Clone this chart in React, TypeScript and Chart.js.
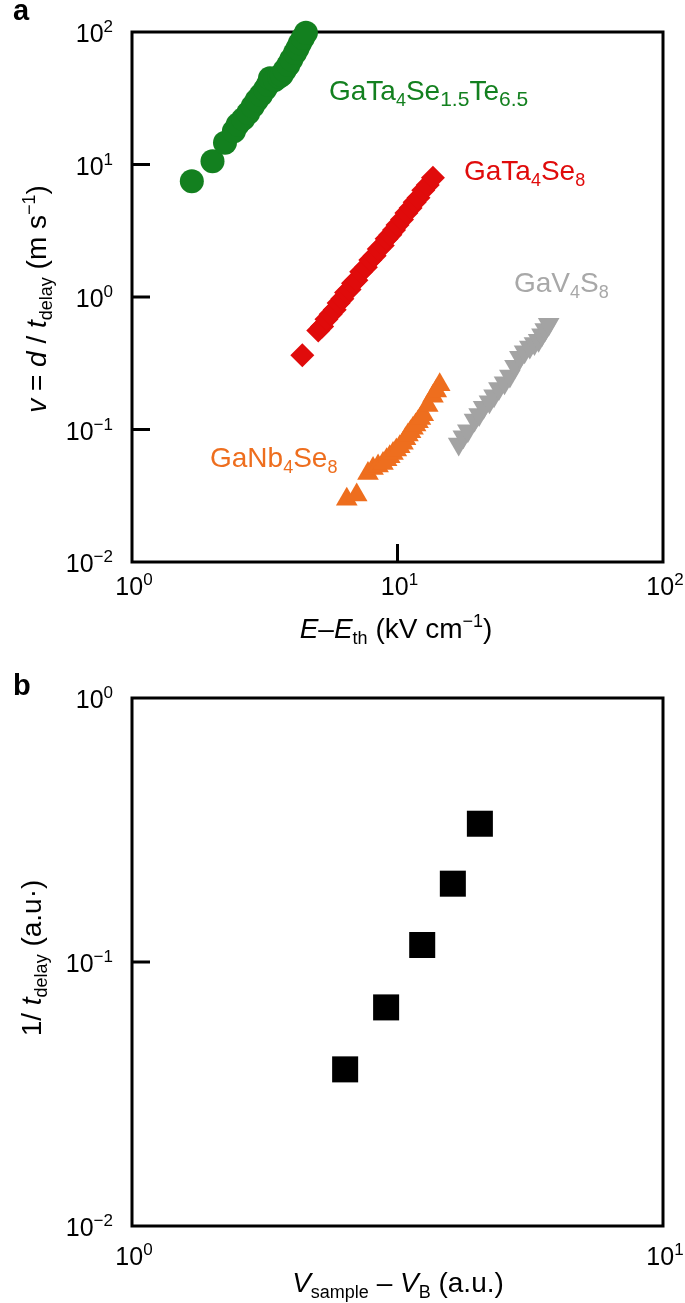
import React, { useEffect, useRef } from 'react';
import { Chart, registerables } from 'chart.js';

Chart.register(...registerables);

const FONT = '"Liberation Sans", Arial, Helvetica, sans-serif';

// ---------- Panel a data ----------
const greenX = [1.68, 2.01, 2.24, 2.42, 2.5, 2.62, 2.74, 2.85, 2.95, 3.06, 3.17, 3.25, 3.31, 3.45, 3.58, 3.66, 3.76, 3.88, 3.98, 4.11, 4.2, 4.29, 4.4, 4.52];
const greenY = [7.47, 10.6, 14.6, 17.8, 20.0, 22.0, 24.5, 27.5, 30.6, 33.5, 36.9, 40.0, 44.7, 43.5, 46.0, 47.3, 51.5, 56.3, 62.0, 69.4, 75.0, 82.1, 90.0, 98.8];

const redX = [4.38, 5.03, 5.2, 5.4, 5.6, 5.8, 6.0, 6.2, 6.4, 6.6, 6.8, 7.0, 7.3, 7.6, 7.9, 8.2, 8.5, 8.8, 9.1, 9.4, 9.7, 10.0, 10.4, 10.8, 11.2, 11.6, 12.0, 12.5, 13.0, 13.6];
const redY = [0.364, 0.558, 0.6, 0.68, 0.74, 0.8, 0.9, 0.97, 1.08, 1.14, 1.27, 1.34, 1.55, 1.68, 1.9, 2.05, 2.3, 2.45, 2.75, 2.95, 3.2, 3.5, 3.85, 4.3, 4.7, 5.2, 5.6, 6.4, 7.0, 7.95];

const orangeX = [6.44, 7.02, 7.74, 8.09, 8.45, 8.82, 9.1, 9.35, 9.62, 9.9, 10.2, 10.49, 10.72, 10.95, 11.2, 11.44, 11.7, 11.95, 12.2, 12.5, 13.0, 13.6, 14.0, 14.42];
const orangeY = [0.0298, 0.0321, 0.0466, 0.0508, 0.053, 0.0555, 0.059, 0.0622, 0.066, 0.07, 0.074, 0.0787, 0.085, 0.0908, 0.096, 0.102, 0.108, 0.1146, 0.121, 0.129, 0.152, 0.178, 0.195, 0.218];

const greyX = [17.0, 17.7, 18.4, 19.5, 20.3, 21.1, 22.2, 23.1, 24.1, 25.3, 26.5, 27.7, 28.9, 30.1, 31.5, 32.8, 34.0, 35.0, 36.0, 37.1];
const greyY = [0.0776, 0.088, 0.098, 0.118, 0.13, 0.147, 0.162, 0.18, 0.204, 0.225, 0.253, 0.3, 0.351, 0.387, 0.42, 0.445, 0.472, 0.52, 0.568, 0.624];

const xTicksA = [1, 10, 100];
const yTicksA = [0.01, 0.1, 1, 10, 100];

// ---------- Panel b data ----------
const bX = [2.52, 3.01, 3.52, 4.02, 4.52];
const bY = [0.0392, 0.0673, 0.116, 0.198, 0.334];

const xTicksB = [1, 10];
const yTicksB = [0.01, 0.1, 1];

// ---------- colours ----------
const GREEN = '#13801f';
const RED = '#e00b0b';
const ORANGE = '#ee6e1e';
const GREY = '#a3a3a3';

type Seg = { t: string; it?: boolean; sub?: boolean; sup?: boolean; k?: number };

function segSize(s: Seg, size: number) {
  return s.sub || s.sup ? Math.round(size * (s.k ?? 0.66)) : size;
}
function segFont(s: Seg, size: number) {
  return `${s.it ? 'italic ' : ''}${segSize(s, size)}px ${FONT}`;
}
function richWidth(ctx: CanvasRenderingContext2D, segs: Seg[], size: number) {
  let w = 0;
  for (const s of segs) {
    ctx.font = segFont(s, size);
    w += ctx.measureText(s.t).width;
  }
  return w;
}
function drawRich(
  ctx: CanvasRenderingContext2D,
  segs: Seg[],
  x: number,
  y: number,
  size: number,
  color: string,
  align: 'left' | 'center' | 'right',
  rot = 0
) {
  ctx.save();
  ctx.translate(x, y);
  if (rot) ctx.rotate(rot);
  const w = richWidth(ctx, segs, size);
  let cx = align === 'left' ? 0 : align === 'center' ? -w / 2 : -w;
  ctx.fillStyle = color;
  ctx.textBaseline = 'alphabetic';
  ctx.textAlign = 'left';
  for (const s of segs) {
    ctx.font = segFont(s, size);
    const dy = s.sub ? size * 0.22 : s.sup ? -size * 0.4 : 0;
    ctx.fillText(s.t, cx, dy);
    cx += ctx.measureText(s.t).width;
  }
  ctx.restore();
}

function powLabel(v: number): Seg[] {
  const e = Math.round(Math.log10(v));
  return [{ t: '10' }, { t: e < 0 ? '\u2212' + String(-e) : String(e), sup: true }];
}

type Annot = { segs: Seg[]; x: number; y: number; color: string };
type FrameOpts = {
  xTicks: number[];
  yTicks: number[];
  xLabelOffset: number;
  xTitle: Seg[];
  xTitlePos: [number, number];
  yTitle: Seg[];
  yTitlePos: [number, number];
  panel: string;
  panelPos: [number, number];
  annots: Annot[];
};

function framePlugin(o: FrameOpts) {
  return {
    id: 'frame',
    beforeDatasetsDraw(chart: any) {
      const ctx: CanvasRenderingContext2D = chart.ctx;
      const { left, right, top, bottom } = chart.chartArea;
      const xs = chart.scales.x;
      const ys = chart.scales.y;
      ctx.save();
      ctx.strokeStyle = '#000';
      ctx.lineWidth = 3;
      ctx.strokeRect(left, top, right - left, bottom - top);
      ctx.beginPath();
      for (const v of o.yTicks) {
        const py = ys.getPixelForValue(v);
        if (py > top + 2 && py < bottom - 2) {
          ctx.moveTo(left, py);
          ctx.lineTo(left + 18, py);
        }
      }
      for (const v of o.xTicks) {
        const px = xs.getPixelForValue(v);
        if (px > left + 2 && px < right - 2) {
          ctx.moveTo(px, bottom);
          ctx.lineTo(px, bottom - 18);
        }
      }
      ctx.stroke();
      ctx.restore();

      for (const v of o.yTicks) {
        const py = ys.getPixelForValue(v);
        drawRich(ctx, powLabel(v), left - 19, py + 10, 25, '#000', 'right');
      }
      for (const v of o.xTicks) {
        const px = xs.getPixelForValue(v);
        drawRich(ctx, powLabel(v), px + 2, bottom + o.xLabelOffset, 25, '#000', 'center');
      }
      drawRich(ctx, o.xTitle, o.xTitlePos[0], o.xTitlePos[1], 28, '#000', 'center');
      drawRich(ctx, o.yTitle, o.yTitlePos[0], o.yTitlePos[1], 28, '#000', 'center', -Math.PI / 2);
      ctx.save();
      ctx.fillStyle = '#000';
      ctx.font = `bold 29px ${FONT}`;
      ctx.textAlign = 'left';
      ctx.textBaseline = 'alphabetic';
      ctx.fillText(o.panel, o.panelPos[0], o.panelPos[1]);
      ctx.restore();
    },
    afterDatasetsDraw(chart: any) {
      const ctx: CanvasRenderingContext2D = chart.ctx;
      for (const a of o.annots) drawRich(ctx, a.segs, a.x, a.y, 28, a.color, 'left');
    },
  };
}

function pts(xs: number[], ys: number[]) {
  return xs.map((x, i) => ({ x, y: ys[i] }));
}

function baseOptions(padding: any, xr: [number, number], yr: [number, number]) {
  return {
    responsive: false,
    animation: false as const,
    devicePixelRatio: 1,
    events: [],
    layout: { padding },
    plugins: { legend: { display: false }, tooltip: { enabled: false } },
    scales: {
      x: { type: 'logarithmic' as const, min: xr[0], max: xr[1], display: false },
      y: { type: 'logarithmic' as const, min: yr[0], max: yr[1], display: false },
    },
  };
}

export default function App() {
  const refA = useRef<HTMLCanvasElement>(null);
  const refB = useRef<HTMLCanvasElement>(null);

  useEffect(() => {
    const chartA = new Chart(refA.current as HTMLCanvasElement, {
      type: 'scatter',
      data: {
        datasets: [
          { data: pts(greenX, greenY), pointStyle: 'circle', pointRadius: 12, backgroundColor: GREEN, borderWidth: 0, clip: false } as any,
          { data: pts(redX, redY), pointStyle: 'rectRot', pointRadius: 12, backgroundColor: RED, borderWidth: 0, clip: false } as any,
          { data: pts(orangeX, orangeY), pointStyle: 'triangle', pointRadius: 12.5, backgroundColor: ORANGE, borderWidth: 0, clip: false } as any,
          { data: pts(greyX, greyY), pointStyle: 'triangle', pointRotation: 180, pointRadius: 12.5, backgroundColor: GREY, borderWidth: 0, clip: false } as any,
        ],
      },
      options: baseOptions({ left: 132, top: 32, right: 22, bottom: 98 }, [1, 100], [0.01, 100]) as any,
      plugins: [
        framePlugin({
          xTicks: xTicksA,
          yTicks: yTicksA,
          xLabelOffset: 33,
          xTitle: [{ t: 'E', it: true }, { t: '\u2013' }, { t: 'E', it: true }, { t: 'th', sub: true }, { t: ' (kV cm' }, { t: '\u22121', sup: true }, { t: ')' }],
          xTitlePos: [396, 638],
          yTitle: [{ t: 'v', it: true }, { t: ' = ' }, { t: 'd', it: true }, { t: ' / ' }, { t: 't', it: true }, { t: 'delay', sub: true }, { t: ' (m s' }, { t: '\u22121', sup: true }, { t: ')' }],
          yTitlePos: [46, 299],
          panel: 'a',
          panelPos: [13, 20],
          annots: [
            { segs: [{ t: 'GaTa' }, { t: '4', sub: true }, { t: 'Se' }, { t: '1.5', sub: true, k: 0.76 }, { t: 'Te' }, { t: '6.5', sub: true, k: 0.76 }], x: 329, y: 100, color: GREEN },
            { segs: [{ t: 'GaTa' }, { t: '4', sub: true }, { t: 'Se' }, { t: '8', sub: true }], x: 464, y: 180, color: RED },
            { segs: [{ t: 'GaV' }, { t: '4', sub: true }, { t: 'S' }, { t: '8', sub: true }], x: 514, y: 292, color: '#a8a8a8' },
            { segs: [{ t: 'GaNb' }, { t: '4', sub: true }, { t: 'Se' }, { t: '8', sub: true }], x: 210, y: 467, color: ORANGE },
          ],
        }),
      ],
    });

    const chartB = new Chart(refB.current as HTMLCanvasElement, {
      type: 'scatter',
      data: {
        datasets: [
          { data: pts(bX, bY), pointStyle: 'rect', pointRadius: 18.4, backgroundColor: '#000', borderWidth: 0, clip: false } as any,
        ],
      },
      options: baseOptions({ left: 132, top: 38, right: 22, bottom: 77 }, [1, 10], [0.01, 1]) as any,
      plugins: [
        framePlugin({
          xTicks: xTicksB,
          yTicks: yTicksB,
          xLabelOffset: 39,
          xTitle: [{ t: 'V', it: true }, { t: 'sample', sub: true }, { t: ' \u2013 ' }, { t: 'V', it: true }, { t: 'B', sub: true }, { t: ' (a.u.)' }],
          xTitlePos: [398, 632],
          yTitle: [{ t: '1/ ' }, { t: 't', it: true }, { t: 'delay', sub: true }, { t: ' (a.u\u00b7)' }],
          yTitlePos: [41, 298],
          panel: 'b',
          panelPos: [13, 35],
          annots: [],
        }),
      ],
    });

    return () => {
      chartA.destroy();
      chartB.destroy();
    };
  }, []);

  return (
    <div style={{ position: 'absolute', left: 0, top: 0, width: 685, height: 1303, background: '#fff' }}>
      <canvas ref={refA} width={685} height={660} style={{ position: 'absolute', left: 0, top: 0, display: 'block' }} />
      <canvas ref={refB} width={685} height={643} style={{ position: 'absolute', left: 0, top: 660, display: 'block' }} />
    </div>
  );
}
